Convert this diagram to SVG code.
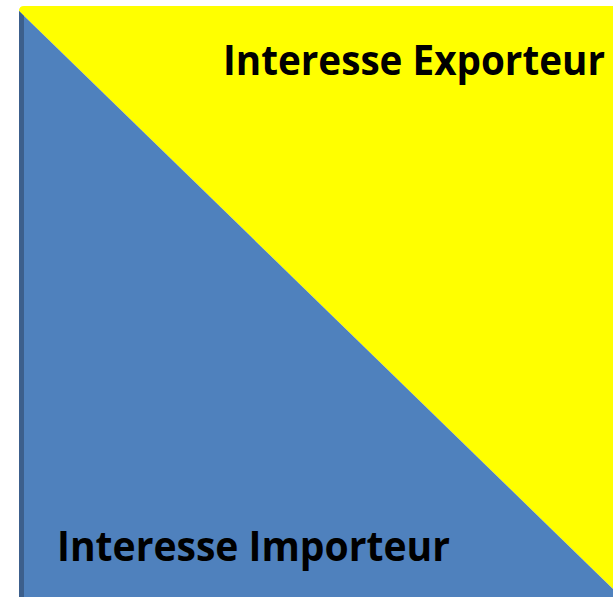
<svg xmlns="http://www.w3.org/2000/svg" width="613" height="597" viewBox="0 0 613 597">
<style>
.lbl{font-family:"Open Sans","Liberation Sans",sans-serif;font-weight:bold;font-size:38px;fill:#000}
</style>
<rect width="613" height="597" fill="#fff"/>
<g id="exporteur">
<path d="M19,11 Q19,6 24,6 L613,6 L613,589 Z" fill="#ffff00"/>
<text class="lbl" x="223" y="75" textLength="382" lengthAdjust="spacingAndGlyphs" transform="translate(223 75) scale(1 1.1) translate(-223 -75)">Interesse Exporteur</text>
</g>
<g id="importeur">
<path d="M19,11 L613,589 L613,597 L19,597 Z" fill="#4f81bd"/>
<path d="M19,11 L24,16 L24,597 L19,597 Z" fill="#3c5f8c"/>
<text class="lbl" x="57" y="561" textLength="393" lengthAdjust="spacingAndGlyphs" transform="translate(57 561) scale(1 1.1) translate(-57 -561)">Interesse Importeur</text>
</g>
</svg>
